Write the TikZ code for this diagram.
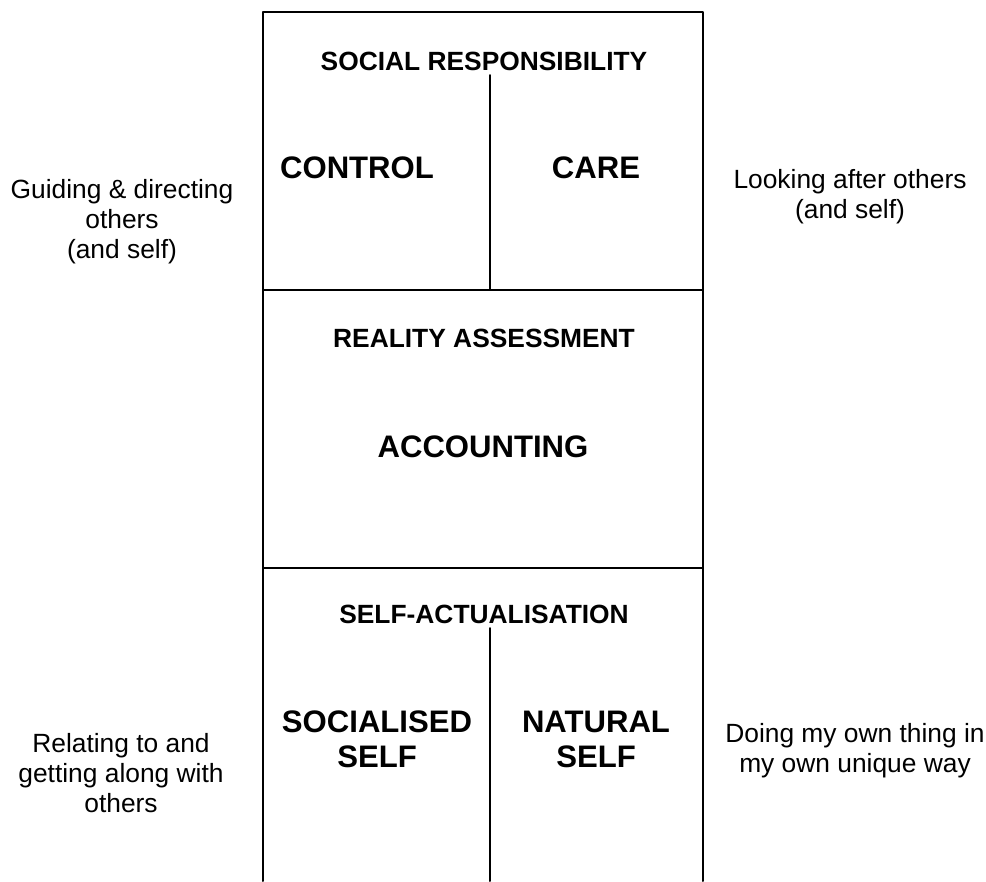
\documentclass[tikz,border=0pt]{standalone}
\usepackage{fontspec}
\setmainfont{Liberation Sans}
\usepackage{tikz}

\tikzset{
  head/.style={font=\fontsize{15}{17}\selectfont\bfseries,anchor=base,inner sep=0pt},
  big/.style={font=\fontsize{17.7}{19.5}\selectfont\bfseries,anchor=base,inner sep=0pt,align=center},
  side/.style={font=\fontsize{15}{17}\selectfont,anchor=base,inner sep=0pt,align=center}
}

\begin{document}
\begin{tikzpicture}[y=-0.2mm,x=0.2mm,line width=1.1pt,line cap=round,line join=round]
\useasboundingbox (0,0) rectangle (986,881);

%%%%%%%%%%%%%%%% FRAME %%%%%%%%%%%%%%%%%%%
\draw (263,881) -- (263,12) -- (703,12) -- (703,881);
\foreach \y in {290,568}
    \draw (263,\y) -- +(440,0);
\draw (490,75) -- (490,290);
\draw (490,628) -- (490,881);

%%%%%%%%%%%%%%%% BOXES %%%%%%%%%%%%%%%%%%%
% (multi-line nodes: base = last line)
\node[head] (socresp) at (484,70) {SOCIAL RESPONSIBILITY};
\node[big] (control) at (357,178) {CONTROL};\node[big] (care) at (596,178) {CARE};

\node[head] (reality) at (484,347) {REALITY ASSESSMENT};
\node[big] (accounting) at (483,457) {ACCOUNTING};

\node[head] (selfact) at (484,623) {SELF-ACTUALISATION};
\node[big] (socself) at (377,767) {SOCIALISED\\SELF};\node[big] (natself) at (596,767) {NATURAL\\SELF};

%%%%%%%%%%%%%%%% SIDES %%%%%%%%%%%%%%%%%%%
\node[side] (guiding) at (122,258) {Guiding \& directing\\others\\(and self)};
\node[side] (looking) at (850,218) {Looking after others\\(and self)};
\node[side] (relating) at (121,812) {Relating to and\\getting along with\\others};
\node[side] (doing) at (855,772) {Doing my own thing in\\my own unique way};

\end{tikzpicture}
\end{document}
